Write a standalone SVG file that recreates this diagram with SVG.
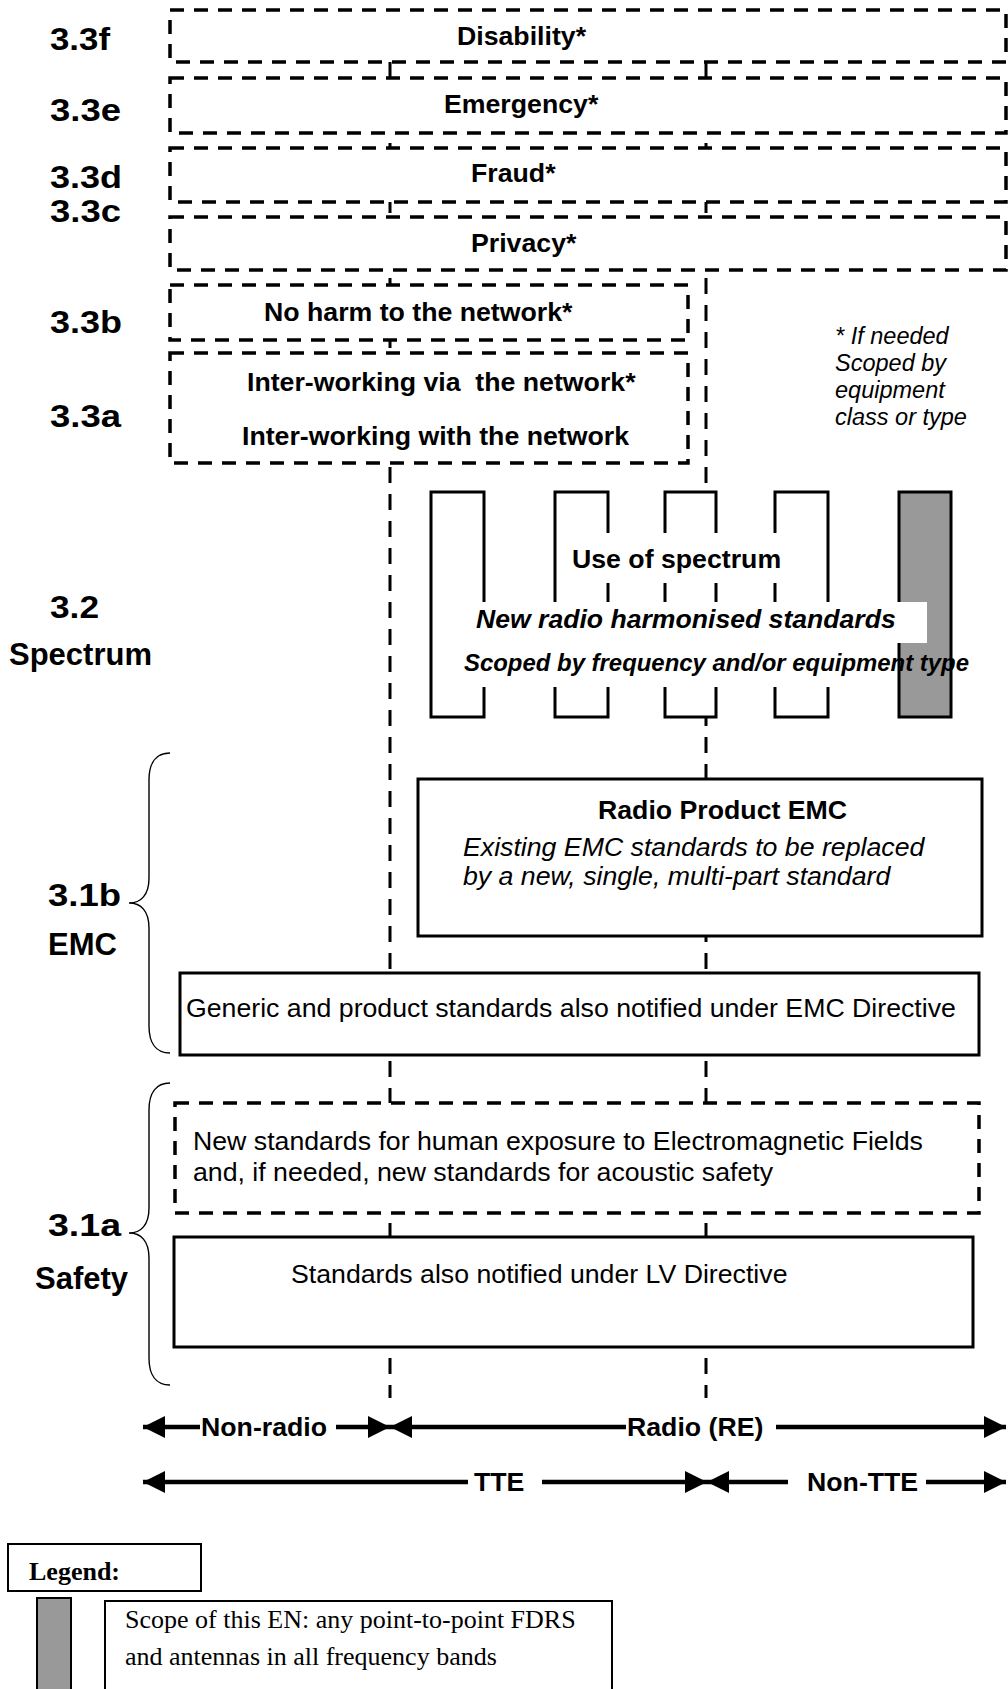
<svg xmlns="http://www.w3.org/2000/svg" width="1008" height="1689" viewBox="0 0 1008 1689">
<style>
text{font-family:"Liberation Sans",Arial,sans-serif;fill:#000}
.lbl{font-size:31px;font-weight:bold}
.bt{font-size:26.7px;font-weight:bold}
.rt{font-size:26.7px}
.it{font-size:26.7px;font-style:italic}
.bi{font-weight:bold;font-style:italic}
.note{font-size:23.5px;font-style:italic}
.tm{font-family:"Liberation Serif","Times New Roman",serif;font-size:26px}
.dbox{fill:#fff;stroke:#000;stroke-width:3.5;stroke-dasharray:14 10}
.sbox{fill:#fff;stroke:#000;stroke-width:3}
.col{fill:#fff;stroke:#000;stroke-width:3}
.gray{fill:#999;stroke:#000;stroke-width:3}
.div{fill:none;stroke:#000;stroke-width:3;stroke-dasharray:16 11}
.brace{fill:none;stroke:#000;stroke-width:1.4}
.arr{stroke:#000;stroke-width:4.5;fill:none}
.head{fill:#000}
.wh{fill:#fff}
</style>
<defs>
<marker id="ah" viewBox="0 0 22 22" refX="22" refY="11" markerWidth="22" markerHeight="22" markerUnits="userSpaceOnUse" orient="auto-start-reverse">
<path d="M0,0 L22,11 L0,22 Z" class="head"/>
</marker>
</defs>

<g id="connectors">
<line class="div" x1="390" y1="62" x2="390" y2="1398"/>
<line class="div" x1="706" y1="62" x2="706" y2="1398"/>
</g>

<g id="sec-3-3f"><rect class="dbox" x="170" y="10" width="836" height="52"/><text class="bt" x="457" y="45">Disability*</text></g>
<g id="sec-3-3e"><rect class="dbox" x="170" y="78" width="836" height="55"/><text class="bt" x="444" y="113">Emergency*</text></g>
<g id="sec-3-3d"><rect class="dbox" x="170" y="148" width="836" height="54"/><text class="bt" x="471" y="182">Fraud*</text></g>
<g id="sec-3-3c"><rect class="dbox" x="170" y="217" width="836" height="53"/><text class="bt" x="471" y="252">Privacy*</text></g>
<g id="sec-3-3b"><rect class="dbox" x="170" y="285" width="518" height="55"/><text class="bt" x="264" y="321">No harm to the network*</text></g>
<g id="sec-3-3a"><rect class="dbox" x="170" y="353" width="518" height="110"/>
<text class="bt" x="247" y="391" xml:space="preserve">Inter-working via  the network*</text>
<text class="bt" x="242" y="445">Inter-working with the network</text></g>

<g id="labels">
<text class="lbl" x="50" y="50" textLength="60" lengthAdjust="spacingAndGlyphs">3.3f</text>
<text class="lbl" x="50" y="121" textLength="71" lengthAdjust="spacingAndGlyphs">3.3e</text>
<text class="lbl" x="50" y="188" textLength="72" lengthAdjust="spacingAndGlyphs">3.3d</text>
<text class="lbl" x="50" y="222" textLength="71" lengthAdjust="spacingAndGlyphs">3.3c</text>
<text class="lbl" x="50" y="333" textLength="72" lengthAdjust="spacingAndGlyphs">3.3b</text>
<text class="lbl" x="50" y="427" textLength="71" lengthAdjust="spacingAndGlyphs">3.3a</text>
<text class="lbl" x="50" y="618" textLength="49" lengthAdjust="spacingAndGlyphs">3.2</text>
<text class="lbl" x="9" y="665">Spectrum</text>
<text class="lbl" x="48" y="906" textLength="73" lengthAdjust="spacingAndGlyphs">3.1b</text>
<text class="lbl" x="48" y="955">EMC</text>
<text class="lbl" x="48" y="1236" textLength="73" lengthAdjust="spacingAndGlyphs">3.1a</text>
<text class="lbl" x="35" y="1289">Safety</text>
</g>

<g id="note">
<text class="note" x="835" y="344">* If needed</text>
<text class="note" x="835" y="371">Scoped by</text>
<text class="note" x="835" y="398">equipment</text>
<text class="note" x="835" y="425">class or type</text>
</g>

<g id="spectrum">
<rect class="col" x="431" y="492" width="53" height="225"/>
<rect class="col" x="555" y="492" width="53" height="225"/>
<rect class="col" x="665" y="492" width="51" height="225"/>
<rect class="col" x="775" y="492" width="53" height="225"/>
<rect class="gray" x="899" y="492" width="52" height="225"/>
<rect class="wh" x="557" y="533" width="227" height="50"/>
<rect class="wh" x="440" y="602" width="487" height="41"/>
<rect class="wh" x="440" y="643" width="457" height="44"/>
<text class="bt" x="572" y="568">Use of spectrum</text>
<text class="bi" font-size="26.6" x="476" y="628">New radio harmonised standards</text>
<text class="bi" font-size="23.5" x="464" y="671" textLength="505" lengthAdjust="spacingAndGlyphs">Scoped by frequency and/or equipment type</text>
</g>

<g id="radio-emc"><rect class="sbox" x="418" y="779" width="564" height="157"/>
<text class="bt" x="598" y="819">Radio Product EMC</text>
<text class="it" x="463" y="856">Existing EMC standards to be replaced</text>
<text class="it" x="463" y="885">by a new, single, multi-part standard</text></g>

<g id="generic-emc"><rect class="sbox" x="180" y="973" width="799" height="82"/>
<text class="rt" x="186" y="1017">Generic and product standards also notified under EMC Directive</text></g>

<g id="emf"><rect class="dbox" x="175" y="1103" width="804" height="110"/>
<text class="rt" x="193" y="1150">New standards for human exposure to Electromagnetic Fields</text>
<text class="rt" x="193" y="1181">and, if needed, new standards for acoustic safety</text></g>

<g id="lv"><rect class="sbox" x="174" y="1237" width="799" height="110"/>
<text class="rt" x="291" y="1283">Standards also notified under LV Directive</text></g>

<g id="braces">
<path class="brace" d="M170,753 C156,753 149,763 149,780 L149,878 C149,895 141,903 129,903 C141,903 149,911 149,928 L149,1026 C149,1043 156,1053 170,1053"/>
<path class="brace" d="M170,1083 C156,1083 149,1093 149,1110 L149,1208 C149,1225 141,1233 129,1233 C141,1233 149,1241 149,1258 L149,1358 C149,1375 156,1385 170,1385"/>
</g>

<g id="scope-arrows">
<line class="arr" x1="143" y1="1427" x2="200" y2="1427" marker-start="url(#ah)"/>
<line class="arr" x1="336" y1="1427" x2="390" y2="1427" marker-end="url(#ah)"/>
<text class="bt" x="201" y="1436">Non-radio</text>
<line class="arr" x1="390" y1="1427" x2="626" y2="1427" marker-start="url(#ah)"/>
<text class="bt" x="627" y="1436">Radio (RE)</text>
<line class="arr" x1="776" y1="1427" x2="1006" y2="1427" marker-end="url(#ah)"/>
<line class="arr" x1="143" y1="1482" x2="468" y2="1482" marker-start="url(#ah)"/>
<text class="bt" x="474" y="1491">TTE</text>
<line class="arr" x1="542" y1="1482" x2="707" y2="1482" marker-end="url(#ah)"/>
<line class="arr" x1="707" y1="1482" x2="788" y2="1482" marker-start="url(#ah)"/>
<text class="bt" x="807" y="1491">Non-TTE</text>
<line class="arr" x1="926" y1="1482" x2="1006" y2="1482" marker-end="url(#ah)"/>
</g>

<g id="legend">
<rect x="8" y="1544" width="193" height="47" fill="#fff" stroke="#000" stroke-width="2"/>
<text class="tm" font-weight="bold" x="29" y="1580">Legend:</text>
<rect x="37" y="1598" width="34" height="110" fill="#999" stroke="#000" stroke-width="2"/>
<rect x="105" y="1601" width="507" height="110" fill="#fff" stroke="#000" stroke-width="2"/>
<text class="tm" x="125" y="1628">Scope of this EN: any point-to-point FDRS</text>
<text class="tm" x="125" y="1665">and antennas in all frequency bands</text>
</g>
</svg>
